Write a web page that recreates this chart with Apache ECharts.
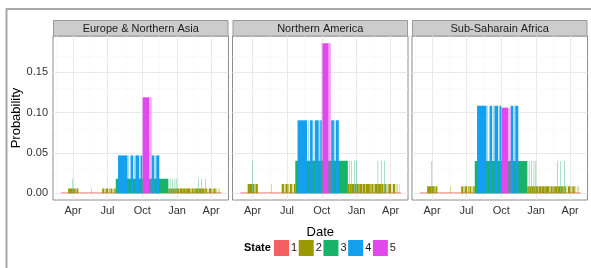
<!DOCTYPE html>
<html lang="en" style="height: 100%">
  <head>
    <meta charset="utf-8" />
    <title>State probability by region</title>
  </head>
  <body style="height: 100%; margin: 0; background: #fff">
    <div id="container" style="width: 591px; height: 268px"></div>

    <script
      type="text/javascript"
      src="https://fastly.jsdelivr.net/npm/echarts@6.0.0/dist/echarts.min.js"
    ></script>

    <script type="text/javascript">
      var regions = ["Europe & Northern Asia", "Northern America", "Sub-Saharain Africa"];
      var states = ["1", "2", "3", "4", "5"];
      var stateColors = ["#F3605F", "#9A9A00", "#19B26B", "#149FEF", "#E149EE"];

      // probability of each state (1..5), one array per region
      var europeProb = [0.001, 0.006, 0.018, 0.047, 0.119];
      var americaProb = [0.001, 0.0115, 0.0405, 0.0905, 0.186];
      var africaProb = [0.001, 0.0087, 0.0402, 0.1085, 0.1062];
      var regionProb = [europeProb, americaProb, africaProb];

      var tickDates = ["2014-04-01", "2014-07-01", "2014-10-01", "2015-01-01", "2015-04-01"];
      var tickLabels = ["Apr", "Jul", "Oct", "Jan", "Apr"];
      var yTicks = [0, 0.05, 0.1, 0.15];

      // runs of days in each state: [first day, last day, state]
      var runs = [
        ["2014-02-28", "2015-04-28", 1],
        ["2014-03-19", "2014-03-30", 2],
        ["2014-03-31", "2014-03-31", 3],
        ["2014-04-01", "2014-04-05", 2],
        ["2014-04-07", "2014-04-08", 2],
        ["2014-04-10", "2014-04-14", 2],
        ["2014-05-20", "2014-05-20", 2],
        ["2014-06-17", "2014-06-22", 2],
        ["2014-06-25", "2014-06-25", 2],
        ["2014-06-27", "2014-07-02", 2],
        ["2014-07-05", "2014-07-06", 2],
        ["2014-07-09", "2014-07-13", 2],
        ["2014-07-16", "2014-07-16", 2],
        ["2014-07-19", "2014-07-22", 2],
        ["2014-07-23", "2014-12-08", 3],
        ["2014-07-29", "2014-08-22", 4],
        ["2014-08-26", "2014-08-26", 4],
        ["2014-08-31", "2014-09-06", 4],
        ["2014-09-10", "2014-09-10", 4],
        ["2014-09-13", "2014-09-22", 4],
        ["2014-09-25", "2014-09-25", 4],
        ["2014-09-27", "2014-09-30", 4],
        ["2014-10-01", "2014-10-01", 5],
        ["2014-10-03", "2014-10-18", 5],
        ["2014-10-20", "2014-10-20", 5],
        ["2014-10-22", "2014-10-22", 5],
        ["2014-10-24", "2014-10-24", 5],
        ["2014-10-26", "2014-11-01", 4],
        ["2014-11-04", "2014-11-04", 4],
        ["2014-11-07", "2014-11-14", 4],
        ["2014-12-09", "2014-12-12", 2],
        ["2014-12-13", "2014-12-13", 3],
        ["2014-12-14", "2014-12-18", 2],
        ["2014-12-19", "2014-12-19", 3],
        ["2014-12-20", "2014-12-25", 2],
        ["2014-12-26", "2014-12-26", 3],
        ["2014-12-27", "2014-12-30", 2],
        ["2014-12-31", "2014-12-31", 3],
        ["2015-01-01", "2015-01-06", 2],
        ["2015-01-08", "2015-01-15", 2],
        ["2015-01-17", "2015-01-23", 2],
        ["2015-01-25", "2015-02-04", 2],
        ["2015-02-06", "2015-02-07", 2],
        ["2015-02-09", "2015-02-13", 2],
        ["2015-02-15", "2015-02-16", 2],
        ["2015-02-18", "2015-02-25", 2],
        ["2015-02-26", "2015-02-26", 3],
        ["2015-02-27", "2015-03-06", 2],
        ["2015-03-07", "2015-03-07", 3],
        ["2015-03-08", "2015-03-12", 2],
        ["2015-03-14", "2015-03-15", 2],
        ["2015-03-16", "2015-03-16", 3],
        ["2015-03-17", "2015-03-20", 2],
        ["2015-03-23", "2015-03-23", 2],
        ["2015-03-26", "2015-04-01", 2],
        ["2015-04-04", "2015-04-04", 2],
        ["2015-04-07", "2015-04-12", 2],
        ["2015-04-15", "2015-04-15", 2],
        ["2015-04-19", "2015-04-19", 2],
        ["2015-04-23", "2015-04-23", 2]
      ];

      // dates become day numbers counted from the first tick
      var DAY = 86400000;
      var origin = Date.UTC(2014, 3, 1);
      function day(s) {
        var p = s.split("-");
        return Math.round((Date.UTC(+p[0], +p[1] - 1, +p[2]) - origin) / DAY);
      }

      var tickDays = tickDates.map(day);
      var xMin = day("2014-02-07");
      var xMax = day("2015-05-17");
      var yMin = -0.0083;
      var yMax = 0.195;

      var gridLeft = [53, 232.5, 412];
      var gridWidth = 175.5;
      var gridTop = 36;
      var gridHeight = 164;
      var font = "Liberation Sans, Arial, Helvetica, sans-serif";

      var dom = document.getElementById("container");
      var myChart = echarts.init(dom, null, { renderer: "canvas" });

      function renderRun(params, api) {
        var p0 = api.coord([api.value(0), 0]);
        var p1 = api.coord([api.value(1), api.value(2)]);
        return {
          type: "rect",
          shape: { x: p0[0], y: p1[1], width: p1[0] - p0[0], height: p0[1] - p1[1] },
          style: api.style()
        };
      }

      // ggplot style major / minor grid lines
      var major = { color: "#E8E8E8", width: 1, type: "solid" };
      var minor = { color: "#F6F6F6", width: 0.6, type: "solid" };
      var gridLines = [];
      tickDays.forEach(function (t, i) {
        gridLines.push({ xAxis: t, lineStyle: major });
        if (i > 0) gridLines.push({ xAxis: (t + tickDays[i - 1]) / 2, lineStyle: minor });
      });
      gridLines.push({ xAxis: tickDays[0] - (tickDays[1] - tickDays[0]) / 2, lineStyle: minor });
      yTicks.forEach(function (v) {
        gridLines.push({ yAxis: v, lineStyle: major });
        gridLines.push({ yAxis: v + 0.025, lineStyle: minor });
      });

      var series = [];
      regions.forEach(function (region, g) {
        states.forEach(function (s, k) {
          var data = runs
            .filter(function (r) { return r[2] === k + 1; })
            .map(function (r) { return [day(r[0]), day(r[1]) + 1, regionProb[g][k]]; });
          var item = {
            name: s,
            type: "custom",
            xAxisIndex: g,
            yAxisIndex: g,
            renderItem: renderRun,
            encode: { x: [0, 1], y: 2 },
            itemStyle: { color: stateColors[k] },
            clip: true,
            silent: true,
            z: 2,
            data: data
          };
          if (k === 0) {
            item.markLine = {
              silent: true,
              symbol: "none",
              z: 1,
              label: { show: false },
              lineStyle: { type: "solid" },
              data: gridLines
            };
          }
          series.push(item);
        });
      });

      var graphics = [
        {
          type: "polyline",
          shape: { points: [[6.5, 268], [6.5, 9], [591, 9]] },
          style: { stroke: "#A8A8A8", lineWidth: 2, fill: null }
        },
        {
          type: "text",
          style: { text: "State", x: 244, y: 248, verticalAlign: "middle", font: "bold 11px " + font, fill: "#000" }
        }
      ];
      regions.forEach(function (region, g) {
        graphics.push({
          type: "rect",
          shape: { x: gridLeft[g] + 0.5, y: 20.5, width: gridWidth - 1, height: 15.5 },
          style: { fill: "#CCCCCC", stroke: "#9A9A9A", lineWidth: 1 }
        });
        graphics.push({
          type: "text",
          style: {
            text: region,
            x: gridLeft[g] + gridWidth / 2,
            y: 28.5,
            align: "center",
            verticalAlign: "middle",
            font: "11px " + font,
            fill: "#1A1A1A"
          }
        });
      });

      var option = {
        animation: false,
        backgroundColor: "#fff",
        textStyle: { fontFamily: font },
        grid: regions.map(function (r, g) {
          return {
            left: gridLeft[g],
            top: gridTop,
            width: gridWidth,
            height: gridHeight,
            show: true,
            backgroundColor: "#fff",
            borderColor: "#8C8C8C",
            borderWidth: 1,
            containLabel: false,
            outerBoundsMode: "none"
          };
        }),
        xAxis: regions.map(function (r, g) {
          return {
            type: "value",
            gridIndex: g,
            min: xMin,
            max: xMax,
            axisLine: { show: false },
            splitLine: { show: false },
            axisTick: { customValues: tickDays, length: 4, lineStyle: { color: "#7F7F7F" } },
            axisLabel: {
              customValues: tickDays,
              margin: 5,
              fontSize: 11,
              color: "#333",
              hideOverlap: false,
              formatter: function (v) {
                var i = tickDays.indexOf(Math.round(+v));
                return i < 0 ? "" : tickLabels[i];
              }
            },
            name: g === 1 ? "Date" : "",
            nameLocation: "middle",
            nameGap: 26,
            nameTextStyle: { fontSize: 13, color: "#000" }
          };
        }),
        yAxis: regions.map(function (r, g) {
          return {
            type: "value",
            gridIndex: g,
            min: yMin,
            max: yMax,
            axisLine: { show: false },
            splitLine: { show: false },
            axisTick: { show: g === 0, customValues: yTicks, length: 4, lineStyle: { color: "#7F7F7F" } },
            axisLabel: {
              show: g === 0,
              customValues: yTicks,
              margin: 5,
              fontSize: 11,
              color: "#333",
              formatter: function (v) { return (+v).toFixed(2); }
            },
            name: g === 0 ? "Probability" : "",
            nameLocation: "middle",
            nameGap: 21,
            nameTextStyle: { fontSize: 13, color: "#000" }
          };
        }),
        legend: {
          data: states,
          left: 274,
          top: 240,
          padding: 0,
          icon: "rect",
          itemWidth: 15,
          itemHeight: 16,
          itemGap: 1.6,
          selectedMode: false,
          textStyle: { fontSize: 11, color: "#1A1A1A", padding: [0, 0, 0, -3] }
        },
        graphic: graphics,
        series: series
      };

      myChart.setOption(option);
      window.addEventListener("resize", myChart.resize);
    </script>
  </body>
</html>
